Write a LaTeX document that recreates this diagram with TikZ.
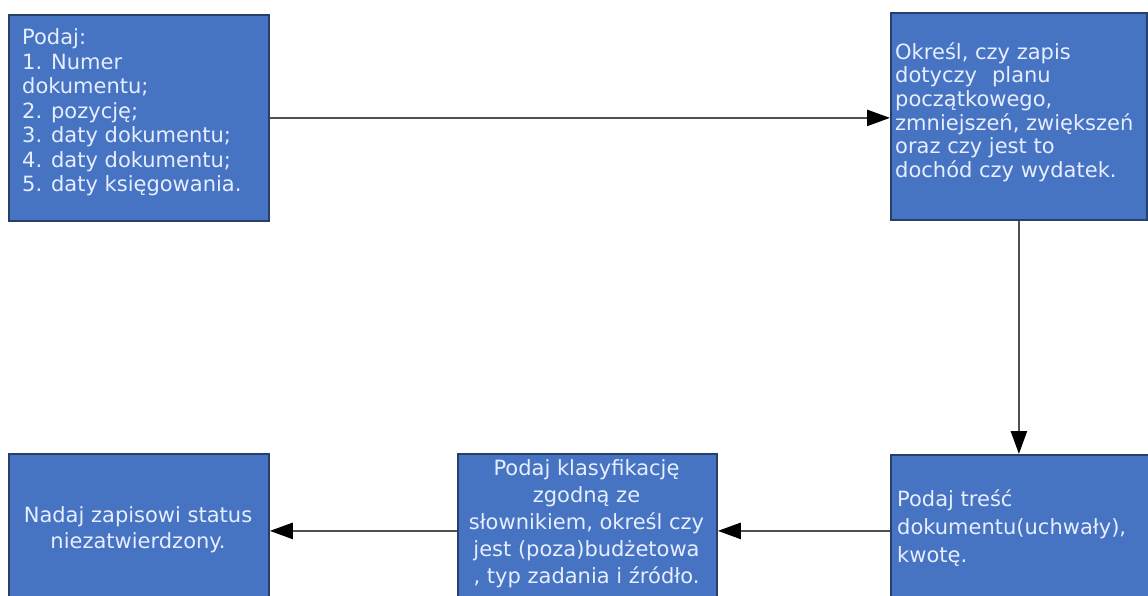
\documentclass[tikz,border=0pt]{standalone}
\usepackage{fontspec}
\setmainfont{DejaVu Sans}
\usetikzlibrary{arrows.meta}
\definecolor{boxfill}{HTML}{4673C2}
\definecolor{boxline}{HTML}{26406A}
\definecolor{boxtext}{HTML}{E6EEFF}
\definecolor{arrline}{HTML}{505050}
\begin{document}
\begin{tikzpicture}[x=1pt,y=-1pt,
  boxstyle/.style={draw=boxline, line width=1.8pt, fill=boxfill, rectangle, inner sep=0pt, anchor=north west},
  txt/.style={text=boxtext, inner sep=0pt},
  arr/.style={draw=arrline, line width=2.5pt, -{Triangle[length=23pt,width=16pt,fill=black,color=black]}}
]
\useasboundingbox (0,0) rectangle (1148,596);
\fill[white] (0,0) rectangle (1148,596);
\clip (0,0) rectangle (1148,596);

\node[boxstyle, minimum width=260pt, minimum height=206pt] (b1) at (8,14) {};
\node[boxstyle, minimum width=256pt, minimum height=207pt] (b2) at (890,12) {};
\node[boxstyle, minimum width=258pt, minimum height=152pt] (b3) at (890,454) {};
\node[boxstyle, minimum width=259pt, minimum height=154pt] (b4) at (457,453) {};
\node[boxstyle, minimum width=260pt, minimum height=154pt] (b5) at (8,453) {};

\node[txt, align=left, anchor=west, font=\fontsize{21}{24.5}\selectfont] (t1) at (22,112.5)
  {Podaj:\\1. Numer\\dokumentu;\\2. pozycję;\\3. daty dokumentu;\\4. daty dokumentu;\\5. daty księgowania.};
\node[txt, align=left, anchor=west, font=\fontsize{21}{23.6}\selectfont] (t2) at (895,112)
  {Określ, czy zapis\\dotyczy\hspace{0.4em} planu\\początkowego,\\zmniejszeń, zwiększeń\\oraz czy jest to\\dochód czy wydatek.};
\node[txt, align=left, anchor=west, font=\fontsize{21}{28}\selectfont] (t3) at (897,528.5)
  {Podaj treść\\dokumentu(uchwały),\\kwotę.};
\node[txt, align=center, font=\fontsize{21}{27}\selectfont] (t4) at (586.5,524)
  {Podaj klasyfikację\\zgodną ze\\słownikiem, określ czy\\jest (poza)budżetowa\\, typ zadania i źródło.};
\node[txt, align=center, font=\fontsize{21}{26}\selectfont] (t5) at (138,530)
  {Nadaj zapisowi status\\niezatwierdzony.};

\draw[arr] (b1.east) -- (b1.east -| b2.west);
\draw[arr] (b2.south) -- (b2.south |- b3.north);
\draw[arr] (b3.west) -- (b3.west -| b4.east);
\draw[arr] (b4.west) -- (b4.west -| b5.east);
\end{tikzpicture}
\end{document}
